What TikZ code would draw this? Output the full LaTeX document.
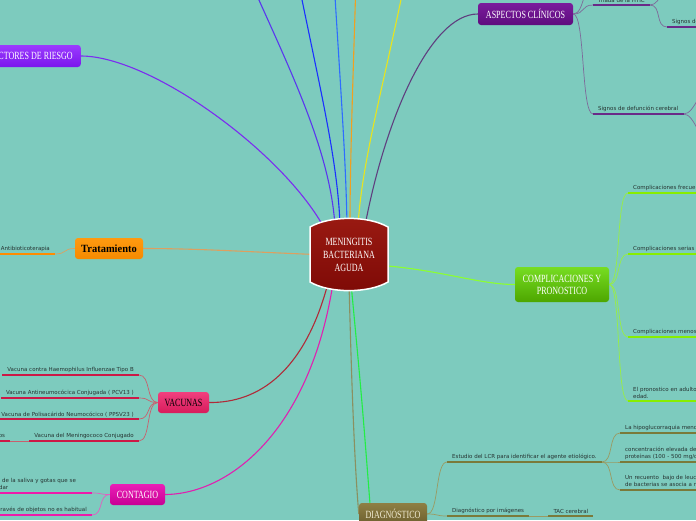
\documentclass[tikz,border=0pt]{standalone}
\usepackage{fontspec}
\setmainfont{DejaVu Sans}
\newfontfamily\topicfont[FakeStretch=0.73]{Liberation Serif}
\newfontfamily\tratfont[FakeStretch=0.95]{Liberation Serif}
\usetikzlibrary{positioning,backgrounds}

\definecolor{bgteal}{HTML}{7DCBBE}
\definecolor{leaftext}{HTML}{263432}
\definecolor{cenA}{HTML}{9A1A12}\definecolor{cenB}{HTML}{7E0A06}
\definecolor{facA}{HTML}{9B3BFF}\definecolor{facB}{HTML}{7B16EC}\definecolor{facL}{HTML}{7B2CF0}
\definecolor{aspA}{HTML}{7A1C9C}\definecolor{aspB}{HTML}{5E0C7E}\definecolor{aspL}{HTML}{5F3F7F}
\definecolor{aspT}{HTML}{7D6A9A}\definecolor{aspU}{HTML}{6A2A88}
\definecolor{traA}{HTML}{FF9A10}\definecolor{traB}{HTML}{F58A00}\definecolor{traL}{HTML}{DDA060}
\definecolor{traU}{HTML}{FF8C00}
\definecolor{vacA}{HTML}{F0407E}\definecolor{vacB}{HTML}{D81C5C}\definecolor{vacL}{HTML}{B02A38}
\definecolor{vacT}{HTML}{C8606E}\definecolor{vacU}{HTML}{CC1846}
\definecolor{conA}{HTML}{EA1EB6}\definecolor{conB}{HTML}{C80094}\definecolor{conL}{HTML}{E020B0}
\definecolor{conT}{HTML}{E060C0}\definecolor{conU}{HTML}{EE1AAA}
\definecolor{comA}{HTML}{77DD22}\definecolor{comB}{HTML}{4DA600}\definecolor{comL}{HTML}{8CFF30}
\definecolor{comT}{HTML}{99EE44}\definecolor{comU}{HTML}{88EE00}
\definecolor{diaA}{HTML}{8E7F44}\definecolor{diaB}{HTML}{6C5E2E}\definecolor{diaL}{HTML}{8A9060}
\definecolor{diaT}{HTML}{9A9A62}\definecolor{diaU}{HTML}{7A7A3A}\definecolor{diaText}{HTML}{F2EDD5}
\definecolor{topV}{HTML}{5A36EE}\definecolor{topB}{HTML}{1A30FF}\definecolor{topL}{HTML}{2E6CFF}
\definecolor{topO}{HTML}{F0A020}\definecolor{topY}{HTML}{E8E41E}\definecolor{topG}{HTML}{22EE44}

\begin{document}
\begin{tikzpicture}[
  x=1pt, y=-1pt,
  topic/.style={rounded corners=3pt, minimum height=22pt, inner xsep=6pt, align=center, text=white,
    font=\topicfont\fontsize{11}{12}\selectfont},
  leaf/.style={inner xsep=5pt, inner ysep=2pt, align=left, text=leaftext, font=\fontsize{5.5}{7.2}\selectfont,
    append after command={(\tikzlastnode.south west) edge[draw=#1, line width=2.2pt] (\tikzlastnode.south east)}},
  link/.style={line width=1.1pt},
  twig/.style={line width=0.7pt},
  tr/.style={out=0, in=180, distance=12pt},
  tl/.style={out=180, in=0, distance=12pt}
]
\useasboundingbox (0,0) rectangle (696,520);

\draw[white, line width=1.5pt, top color=cenA, bottom color=cenB]
  (310,227) .. controls (330,215.5) and (368,215.5) .. (388,227) -- (388,282)
  .. controls (368,293.5) and (330,293.5) .. (310,282) -- cycle;
\node[align=center, text=white, minimum width=78pt, minimum height=73pt,
  font=\topicfont\fontsize{11}{13}\selectfont] (c) at (349,254.5) {MENINGITIS\\BACTERIANA\\AGUDA};

\node[topic, top color=facA, bottom color=facB, inner xsep=8pt, anchor=east] (fac) at (81,56) {FACTORES DE RIESGO};
\node[topic, top color=aspA, bottom color=aspB, minimum width=95pt] (asp) at (525.5,14) {ASPECTOS CLÍNICOS};
\node[topic, top color=traA, bottom color=traB, text=black, minimum width=68pt, minimum height=21pt,
  font=\tratfont\bfseries\fontsize{11}{12}\selectfont] (tra) at (109,248.5) {Tratamiento};
\node[topic, top color=vacA, bottom color=vacB, text=black, minimum width=51pt, minimum height=21pt,
  inner xsep=3pt] (vac) at (183.5,402.5) {VACUNAS};
\node[topic, top color=conA, bottom color=conB, minimum width=55pt, minimum height=21pt] (con) at (137.5,494.5) {CONTAGIO};
\node[topic, top color=comA, bottom color=comB, minimum width=94pt, minimum height=35pt] (com) at (562,284.5) {COMPLICACIONES Y\\PRONOSTICO};
\node[topic, top color=diaA, bottom color=diaB, text=diaText, minimum width=68pt] (dia) at (393,514) {DIAGNÓSTICO};

\node[leaf=aspU, anchor=south west] (tri) at (593,5) {Triada de la HTIC};
\node[leaf=aspU, anchor=south west] (sig) at (667,27) {Signos de irritación meníngea};
\node[leaf=aspU, anchor=south west] (sdc) at (593,114) {Signos de defunción cerebral};
\coordinate (asp0) at (595,-20);
\coordinate (tri0) at (675,-20);
\coordinate (sdc1) at (712,85);
\coordinate (sdc2) at (712,145);

\node[leaf=comU, anchor=south west, text width=180pt] (cf) at (628,193) {Complicaciones frecuentes en la fase aguda};
\node[leaf=comU, anchor=south west, text width=180pt] (cs) at (628,254) {Complicaciones serias};
\node[leaf=comU, anchor=south west, text width=180pt] (cm) at (628,337) {Complicaciones menos frecuentes};
\node[leaf=comU, anchor=south west, text width=180pt] (pr) at (628,401) {El pronostico en adultos empeora con la\\edad.};

\node[leaf=diaU, anchor=south west] (lcr) at (447,462) {Estudio del LCR para identificar el agente etiológico.};
\node[leaf=diaU, anchor=south west] (img) at (447,516) {Diagnóstico por imágenes};
\node[leaf=diaU, right=19pt of img.south east, anchor=south west] (tac) {TAC cerebral};
\node[leaf=diaU, anchor=south west, text width=180pt] (hip) at (620,433) {La hipoglucorraquia menor de 40 mg/dl};
\node[leaf=diaU, anchor=south west, text width=180pt] (pro) at (620,462) {concentración elevada de\\proteínas (100 - 500 mg/dl)};
\node[leaf=diaU, anchor=south west, text width=180pt] (leu) at (620,490) {Un recuento \ bajo de leucocitos y alto\\de bacterias se asocia a mal pronóstico};
\coordinate (bot1) at (372,530);

\node[leaf=traU, anchor=south east] (ant) at (55,254) {Antibioticoterapia};

\node[leaf=vacU, anchor=south east] (v1) at (139,375) {Vacuna contra Haemophilus Influenzae Tipo B};
\node[leaf=vacU, anchor=south east] (v2) at (139,398) {Vacuna Antineumocócica Conjugada ( PCV13 )};
\node[leaf=vacU, anchor=south east] (v3) at (139,419) {Vacuna de Polisacárido Neumocócico ( PPSV23 )};
\node[leaf=vacU, anchor=south east] (v4) at (139,441) {Vacuna del Meningococo Conjugado};
\node[leaf=vacU, left=19pt of v4.south west, anchor=south east] (sero) {Protege contra 4 serogrupos};

\node[leaf=conU, anchor=south east, text width=142pt] (sal) at (92,493) {Por contacto directo de la saliva y gotas que se\\expulsan al estornudar};
\node[leaf=conU, anchor=south east] (obj) at (92,515) {El contagio a través de objetos no es habitual};

\coordinate (top1) at (250,-20);
\coordinate (top2) at (298,-20);
\coordinate (top3) at (334,-20);
\coordinate (top4) at (356,-20);
\coordinate (top5) at (405,-20);

\begin{scope}[on background layer]
\fill[bgteal] (0,0) rectangle (696,520);
\draw[link, topV] (top1) .. controls (290,70) and (330,150) .. ([xshift=-14pt,yshift=-8pt]c.north);
\draw[link, topB] (top2) .. controls (318,80) and (338,160) .. ([xshift=-9pt,yshift=-8pt]c.north);
\draw[link, topL] (top3) .. controls (340,80) and (346,160) .. ([xshift=-2pt,yshift=-8pt]c.north);
\draw[link, topO] (top4) .. controls (353,80) and (350,160) .. ([xshift=1pt,yshift=-8pt]c.north);
\draw[link, topY] (top5) .. controls (385,80) and (362,160) .. ([xshift=9pt,yshift=-8pt]c.north);
\draw[link, facL] (fac.east) .. controls (150,56) and (280,150) .. ([xshift=-26pt,yshift=-8pt]c.north);
\draw[link, aspL] ([xshift=16pt,yshift=-8pt]c.north) .. controls (385,120) and (430,14) .. (asp.west);
\draw[link, traL] ([xshift=6pt]c.west) .. controls (250,252) and (200,248.5) .. (tra.east);
\draw[link, vacL] ([xshift=-21pt,yshift=8pt]c.south) .. controls (305,370) and (260,403) .. (vac.east);
\draw[link, conL] ([xshift=-16pt,yshift=8pt]c.south) .. controls (310,430) and (230,494) .. (con.east);
\draw[link, diaL] ([yshift=8pt]c.south) .. controls (352,400) and (355,470) .. (dia.west);
\draw[link, topG] ([xshift=2pt,yshift=8pt]c.south) .. controls (362,400) .. (bot1);
\draw[link, comL] ([xshift=-6pt,yshift=-11pt]c.east) .. controls (440,270) and (480,284.5) .. (com.west);

\draw[twig, aspT] (asp.east) to[tr] (tri.south west);
\draw[twig, aspT] (asp.east) to[tr] (sdc.south west);
\draw[twig, aspT] (asp.east) to[tr] (asp0);
\draw[twig, aspT] (tri.south east) to[tr] (sig.south west);
\draw[twig, aspT] (tri.south east) to[tr] (tri0);
\draw[twig, aspT] (sdc.south east) to[tr] (sdc1);
\draw[twig, aspT] (sdc.south east) to[tr] (sdc2);
\foreach \k in {cf,cs,cm,pr} \draw[twig, comT] (com.east) to[tr] (\k.south west);
\draw[twig, diaT] (dia.east) to[tr] (lcr.south west);
\draw[twig, diaT] (dia.east) to[tr] (img.south west);
\draw[twig, diaT] (img.south east) -- (tac.south west);
\foreach \k in {hip,pro,leu} \draw[twig, diaT] (lcr.south east) to[tr] (\k.south west);
\draw[twig, traL] (tra.west) to[tl] (ant.south east);
\foreach \k in {v1,v2,v3,v4} \draw[twig, vacT] (vac.west) to[tl] (\k.south east);
\draw[twig, vacT] (v4.south west) -- (sero.south east);
\draw[twig, conT] (con.west) to[tl] (sal.south east);
\draw[twig, conT] (con.west) to[tl] (obj.south east);
\end{scope}
\end{tikzpicture}
\end{document}
